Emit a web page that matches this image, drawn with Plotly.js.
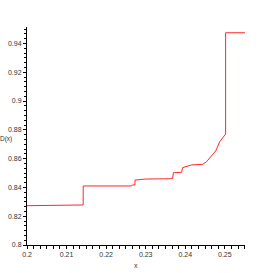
<!DOCTYPE html>
<html><head><meta charset="utf-8">
<script src="https://cdn.plot.ly/plotly-3.0.1.min.js"></script>
<style>html,body{margin:0;padding:0;background:#fff;}#c{width:273px;height:273px;}</style>
</head><body><div id="c"></div>
<script>
const xVals = [0.2, 0.2121, 0.2123, 0.2142, 0.2142, 0.2264, 0.2266, 0.2273, 0.2273, 0.2300, 0.2362, 0.2368, 0.2370, 0.2391, 0.2393, 0.2416, 0.2444, 0.2454, 0.2466, 0.2477, 0.2487, 0.2500, 0.2502, 0.2502, 0.2551];
const dVals = [0.8273, 0.8273, 0.8278, 0.8278, 0.8410, 0.8410, 0.8417, 0.8417, 0.8451, 0.8458, 0.8460, 0.8462, 0.8502, 0.8505, 0.8537, 0.8556, 0.8560, 0.8579, 0.8618, 0.8653, 0.8717, 0.8765, 0.8770, 0.9474, 0.9474];
const xLabel = "x";
const yLabel = "D(x)";

const font = {family: "Liberation Sans Narrow, Liberation Sans, sans-serif", size: 7, color: "#333"};
const trace = {x: xVals, y: dVals, mode: "lines", line: {color: "rgb(255,40,40)", width: 1}, hoverinfo: "skip"};
const axisCommon = {
  showgrid: false, zeroline: false, showline: true, linecolor: "#000", linewidth: 1,
  ticks: "outside", ticklen: 3, tickcolor: "#000", tickfont: font, mirror: false
};
const layout = {
  width: 273, height: 273,
  margin: {l: 27, r: 28, t: 27, b: 28},
  paper_bgcolor: "#fff", plot_bgcolor: "#fff",
  showlegend: false,
  xaxis: Object.assign({}, axisCommon, {range: [0.2, 0.2551], dtick: 0.01, tick0: 0.2,
    minor: {dtick: 0.01/6, tick0: 0.2, ticks: "outside", ticklen: 3, tickcolor: "#000"}}),
  yaxis: Object.assign({}, axisCommon, {range: [0.8, 0.9514], dtick: 0.02, tick0: 0.8,
    minor: {dtick: 0.02/6, tick0: 0.8, ticks: "outside", ticklen: 2, tickcolor: "#000"}}),
  annotations: [
    {text: yLabel, xref: "paper", yref: "paper", x: -0.097, y: 0.488, xanchor: "center", yanchor: "middle", showarrow: false, font: {family: font.family, size: 6.5, color: "#333"}},
    {text: xLabel, xref: "paper", yref: "paper", x: 0.5, y: -0.095, xanchor: "center", yanchor: "middle", showarrow: false, font: font}
  ]
};
Plotly.newPlot("c", [trace], layout, {staticPlot: true});
</script></body></html>
